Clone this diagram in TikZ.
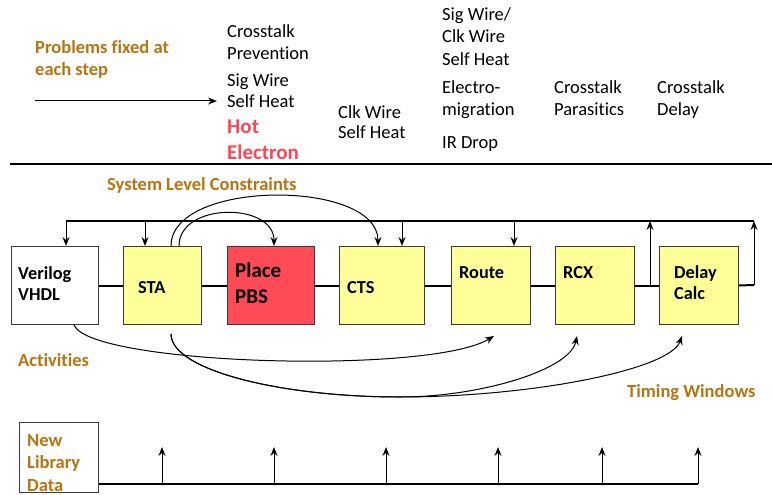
\documentclass[tikz,border=0pt]{standalone}
\usepackage{fontspec}
\setmainfont{Carlito}[Ligatures=NoCommon]
\usetikzlibrary{arrows.meta}
\definecolor{brn}{RGB}{185,115,15}
\definecolor{yel}{RGB}{255,255,153}
\definecolor{rd}{RGB}{255,75,85}
\definecolor{hot}{RGB}{255,70,85}
\definecolor{bord}{RGB}{60,60,60}
\tikzset{
  box/.style={draw=bord, line width=1pt, anchor=north west, inner sep=0pt, minimum height=78pt},
  txt/.style={anchor=base west, inner sep=0pt, font=\fontsize{18.5}{21}\selectfont},
  btxt/.style={anchor=base west, inner sep=0pt, font=\fontsize{18.3}{21}\selectfont\bfseries},
  ptxt/.style={anchor=base west, inner sep=0pt, font=\fontsize{21}{24}\selectfont\bfseries},
  brtxt/.style={btxt, text=brn, font=\fontsize{18.5}{21}\selectfont\bfseries},
  thick2/.style={line width=2pt},
  arr/.style={line width=1pt, -{Stealth[length=9pt,width=7pt,inset=3pt]}},
}
\begin{document}
\begin{tikzpicture}[x=1pt,y=-1pt]
\useasboundingbox (0,0) rectangle (772,495);
% ---------- top section ----------
\node[brtxt] (pf1) at (35,54) {Problems fixed at};
\node[brtxt] (pf2) at (35,76) {each step};
\coordinate (pa) at (35,101);
\coordinate (pb) at (217,101);
\draw[arr] (pa) -- (pb);

\node[txt] (c1a) at (227,38) {Crosstalk};
\node[txt] (c1b) at (227,59.5) {Prevention};
\node[txt] (c1c) at (227,86.5) {Sig Wire};
\node[txt] (c1d) at (227,107.5) {Self Heat};
\node[ptxt, text=hot] (c1e) at (227,134) {Hot};
\node[ptxt, text=hot] (c1f) at (227,159) {Electron};

\node[txt] (c2a) at (338,119) {Clk Wire};
\node[txt] (c2b) at (338,139) {Self Heat};

\node[txt] (c3a) at (442,21) {Sig Wire/};
\node[txt] (c3b) at (442,43) {Clk Wire};
\node[txt] (c3c) at (442,66) {Self Heat};
\node[txt] (c3d) at (442,94) {Electro-};
\node[txt] (c3e) at (442,115) {migration};
\node[txt] (c3f) at (442,149) {IR Drop};

\node[txt] (c4a) at (554,94) {Crosstalk};
\node[txt] (c4b) at (554,115) {Parasitics};

\node[txt] (c5a) at (657,94) {Crosstalk};
\node[txt] (c5b) at (657,115) {Delay};

\coordinate (sepL) at (10,164);
\coordinate (sepR) at (772,164);
\draw[line width=2.5pt] (sepL) -- (sepR);

% ---------- flow boxes ----------
\node[box, fill=white, minimum width=87pt] (v) at (11,246) {};
\node[box, fill=yel, minimum width=78pt] (sta) at (123,246) {};
\node[box, fill=rd, minimum width=87pt] (pl) at (227,246) {};
\node[box, fill=yel, minimum width=85pt] (cts) at (339,246) {};
\node[box, fill=yel, minimum width=79pt] (rt) at (451,246) {};
\node[box, fill=yel, minimum width=79pt] (rcx) at (555,246) {};
\node[box, fill=yel, minimum width=79pt] (dc) at (659,246) {};

\node[btxt] (vl1) at (18,279) {Verilog};
\node[btxt] (vl2) at (18,300) {VHDL};
\node[btxt] (stal) at (138,293) {STA};
\node[ptxt] (pll1) at (235,277) {Place};
\node[ptxt] (pll2) at (235,303) {PBS};
\node[btxt] (ctsl) at (347,293) {CTS};
\node[btxt] (rtl) at (459,278) {Route};
\node[btxt] (rcxl) at (563,278) {RCX};
\node[btxt] (dcl1) at (674,278) {Delay};
\node[btxt] (dcl2) at (674,299) {Calc};

% chain
\draw[thick2] (v) -- (sta) -- (pl) -- (cts) -- (rt) -- (rcx) -- (dc);
\coordinate (re) at (754,285);
\coordinate (tr) at (754,221);
\coordinate (tl) at (66,221);
\draw[thick2] (dc.east) -- (re);
\draw[thick2] (tl) -- (tr);
\draw[arr] (re) -- (tr);
\coordinate (mu) at (650,285);
\coordinate (mt) at (650,221);
\draw[arr] (mu) -- (mt);

% bus down arrows
\coordinate (t1) at (66,221);
\coordinate (t2) at (145,221);
\coordinate (t3) at (402,221);
\coordinate (t4) at (514,221);
\draw[arr] (t1) -- (t1 |- v.north);
\draw[arr] (t2) -- (t2 |- sta.north);
\draw[arr] (t3) -- (t3 |- cts.north);
\draw[arr] (t4) -- (t4 |- rt.north);

% top curves
\node[brtxt] (slc) at (107,190) {System Level Constraints};
\draw[arr] ([xshift=48pt]sta.north west) .. controls (171,179) and (378,179) .. ([xshift=39pt]cts.north west);
\draw[arr] ([xshift=56pt]sta.north west) .. controls (179,202) and (274,202) .. ([xshift=47pt]pl.north west);

% bottom curves
\node[brtxt] (act) at (18,366) {Activities};
\node[brtxt] (tw) at (627,397) {Timing Windows};
\draw[arr] ([xshift=63pt]v.south west) .. controls (90,365) and (430,375) .. ([xshift=43pt,yshift=-11pt]rt.south west);
\coordinate (j) at (400,397);
\draw[arr] ([xshift=48pt,yshift=-9pt]sta.south west) .. controls (171,370) and (280,397) .. (j)
  .. controls (480,397) and (570,370) .. ([xshift=22pt,yshift=-11pt]rcx.south west);
\draw[arr] ([xshift=48pt,yshift=-9pt]sta.south west) .. controls (171,370) and (280,397) .. (j)
  .. controls (530,397) and (670,370) .. ([xshift=23pt,yshift=-11pt]dc.south west);

% ---------- library ----------
\node[box, fill=white, minimum width=79pt, minimum height=70pt] (lib) at (19,422) {};
\node[brtxt] (lb1) at (27,446) {New};
\node[brtxt] (lb2) at (27,468) {Library};
\node[brtxt] (lb3) at (27,491) {Data};
\coordinate (be) at (698,484);
\draw[thick2] (lib.east |- be) -- (be);
\foreach \x/\n in {162/a,274/b,386/c,498/d,602/e,698/f}{
  \coordinate (u\n) at (\x,484);
  \coordinate (w\n) at (\x,447);
  \draw[arr] (u\n) -- (w\n);
}
\end{tikzpicture}
\end{document}
